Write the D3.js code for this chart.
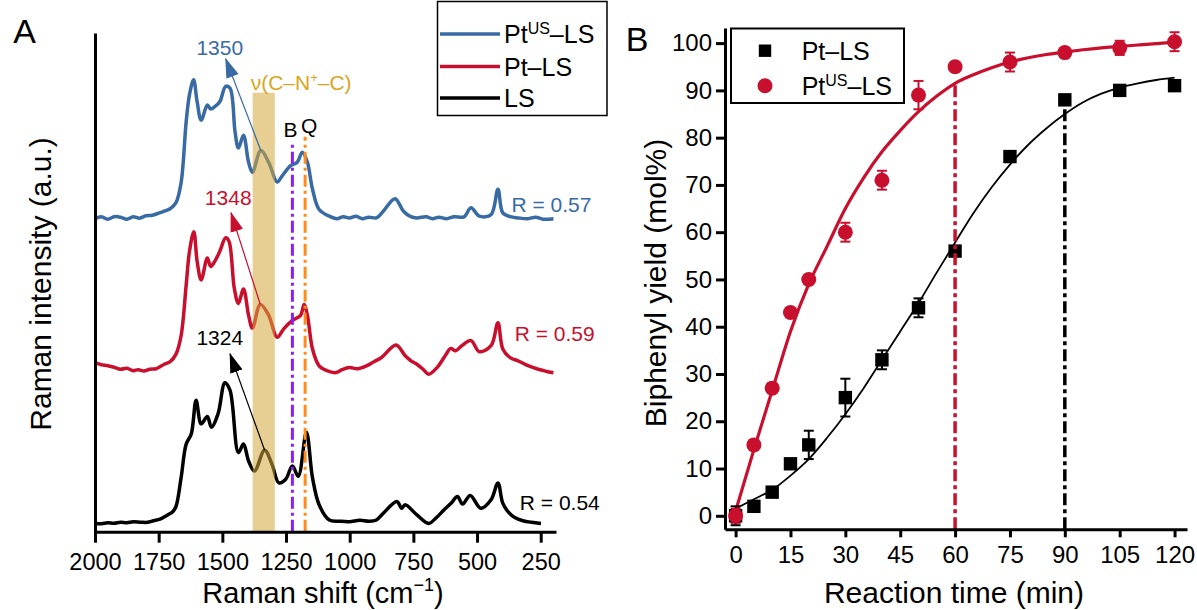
<!DOCTYPE html>
<html>
<head>
<meta charset="utf-8">
<script src="https://cdn.jsdelivr.net/npm/d3@7"></script>
<style>
body { margin: 0; background: #fff; }
svg text { font-family: "Liberation Sans", Arial, sans-serif; }
</style>
</head>
<body>
<svg id="chart" width="1197" height="610"></svg>
<script>
// ---- panel A : Raman spectra, [shift cm-1, intensity a.u.] ----
var ptUsLs = [[2000,313],[1975,315],[1950,312.5],[1925,315],[1900,314.5],[1875,312.5],[1850,315],[1825,313.5],[1800,316],[1775,316.5],[1750,318.5],[1728,320.5],[1705,323],[1682,329],[1662,349],[1642,410],[1629,437],[1613,452],[1599,430],[1583,411.5],[1559,426.7],[1546,422.7],[1530,425],[1510,430],[1487,445.3],[1470,443.6],[1450,399.7],[1437,383.6],[1417,396.4],[1397,369.4],[1382,359.3],[1349,381.2],[1318,369.4],[1285,349.8],[1265,355.9],[1232,366],[1206,369.4],[1186,379.5],[1166,369.4],[1146,342.4],[1120,322.2],[1080,315.5],[1050,313],[1025,315],[1001,313.8],[975,315.5],[950,313],[925,314.5],[895,313.8],[868,320.5],[822,333],[789,320.5],[760,315],[736,313.8],[700,315],[675,313],[650,314.5],[620,313],[590,315],[551,314.8],[524,323.9],[491,315.5],[445,317.1],[418,342.4],[399,318.8],[370,315],[339,313.8],[300,313],[270,314.5],[240,312.5],[200,313]];
var ptLs = [[2000,169],[1975,167],[1950,166],[1925,164.5],[1900,162.4],[1875,163.5],[1850,161],[1830,162],[1808,160.7],[1785,162.5],[1760,163],[1745,165],[1728,167.5],[1705,170],[1682,177.6],[1662,196],[1642,246.7],[1629,280.4],[1612,300],[1599,270.3],[1583,251.8],[1559,273.7],[1546,265.3],[1530,270.3],[1510,280.4],[1487,293.9],[1474,290.5],[1453,243.3],[1437,228.2],[1417,242.7],[1397,216.4],[1382,203.6],[1351,227.2],[1318,216.4],[1285,194.5],[1259,202.9],[1225,211.3],[1193,216.4],[1179,227.2],[1166,216.4],[1146,182.7],[1120,165.8],[1090,161],[1054,159.1],[1030,162],[1001,164.1],[970,163],[934,165.8],[905,170],[875,174.2],[818,186.7],[782,175.9],[760,171],[736,167.5],[710,162],[690,157.4],[657,164.1],[620,178],[604,183.3],[584,181],[560,186],[524,191.1],[491,180],[445,186],[418,209],[399,182.7],[370,174],[339,170.9],[300,166],[260,162.4],[230,160.5],[200,159]];
var ls = [[2000,8.3],[1975,8],[1950,9],[1925,8.5],[1900,9.5],[1875,9],[1850,10],[1820,9.5],[1794,9.4],[1770,11],[1745,12.5],[1715,16.8],[1695,20],[1682,25.2],[1662,53.9],[1642,87.6],[1622,97.7],[1603,131.4],[1583,107.8],[1559,115.2],[1543,104.4],[1517,117.9],[1490,148.9],[1470,141.5],[1437,79.1],[1417,87.6],[1397,70.7],[1374,60.6],[1334,81.5],[1305,67.3],[1278,48.8],[1252,52.2],[1225,65.7],[1202,55.5],[1170,99.4],[1146,53.9],[1120,26.9],[1080,11.7],[1040,10.5],[1001,10],[960,11.5],[925,10.5],[895,11.7],[868,18.5],[815,30.3],[796,23.5],[782,26.9],[736,16.8],[690,8.3],[660,14],[630,21.8],[600,29],[577,35.3],[557,27.6],[527,36.3],[485,23.5],[445,31.9],[418,48.8],[399,28.6],[375,19],[352,14.1],[320,11],[286,9.4],[249,8.3]];

var shiftTicks = [2000, 1750, 1500, 1250, 1000, 750, 500, 250];
var rValues = ["R = 0.57", "R = 0.59", "R = 0.54"];
var peakLabels = ["1350", "1348", "1324"];
var peakShift = [1349, 1351, 1334];
var bandRange = [1381, 1294];
var bqShift = [1225, 1175];
var bqNames = ["B", "Q"];

// ---- panel B : kinetics ----
var timeMin = [0, 5, 10, 15, 20, 30, 40, 50, 60, 75, 90, 105, 120];
var ptLsYield = [0, 2, 5, 11, 15, 25, 33, 44, 56, 76, 88, 90, 91];
var ptLsErr = [2, 0.5, 1, 1, 3, 4, 2, 2, 0.5, 1, 1, 1, 1];
var ptUsYield = [0, 15, 27, 43, 50, 60, 71, 89, 95, 96, 98, 99, 100.3];
var ptUsErr = [1.5, 1, 1, 1, 1, 2, 2, 3, 1, 2, 1, 1.5, 2];
var fitTime = [0, 5, 10, 15, 20, 25, 30, 35, 40, 45, 50, 55, 60, 65, 70, 75, 80, 85, 90, 95, 100, 105, 110, 115, 120];
var ptLsFit = [1.5, 3.5, 5.5, 8.5, 12, 16.5, 21.5, 27, 33, 39, 45, 51.5, 57.8, 64, 69.5, 74.3, 78.5, 82, 85, 87.5, 89.3, 90.6, 91.5, 92.2, 92.7];
var ptUsFit = [1, 14, 26.5, 39, 49, 57, 65, 71.5, 77, 81.5, 85.5, 88.8, 91.5, 93.3, 94.8, 96, 96.9, 97.6, 98.1, 98.6, 99, 99.3, 99.6, 99.9, 100.2];
var timeTicks = [0, 15, 30, 45, 60, 75, 90, 105, 120];
var yieldTicks = [0, 10, 20, 30, 40, 50, 60, 70, 80, 90, 100];

var blue = "#386aa3", red = "#c8102e", gold = "#d9a521";

var svg = d3.select("#chart");

// ================= A =================
var xA = d3.scaleLinear().domain([2000, 190]).range([95, 556]);
var yA = d3.scaleLinear().domain([0, 498.7]).range([531.7, 33]);

var gA = svg.append("g");

var lineA = d3.line()
    .x(function (d) { return xA(d[0]); })
    .y(function (d) { return yA(d[1]); })
    .curve(d3.curveCatmullRom.alpha(0.5));

var spectra = [ptUsLs, ptLs, ls];
var specColors = [blue, red, "#000"];

spectra.forEach(function (s, i) {
    gA.append("path")
        .attr("d", lineA(s))
        .attr("fill", "none")
        .attr("stroke", specColors[i])
        .attr("stroke-width", 3.5)
        .attr("stroke-linejoin", "round");
});

// band, drawn semi-transparent over the spectra
gA.append("rect")
    .attr("x", xA(bandRange[0]))
    .attr("width", xA(bandRange[1]) - xA(bandRange[0]))
    .attr("y", yA(439))
    .attr("height", yA(0) - yA(439))
    .attr("fill", "#d4a73a")
    .attr("opacity", 0.55);

gA.append("text")
    .attr("x", xA(bandRange[0]) - 2)
    .attr("y", yA(442))
    .attr("fill", gold)
    .attr("font-size", 21)
    .html('ν(C–N<tspan dy="-8" font-size="13">+</tspan><tspan dy="8">–C)</tspan>');

// B / Q lines
var bqColors = ["#8a1ff0", "#ff8c1a"];
var bqTop = [391, 395];
bqShift.forEach(function (s, i) {
    gA.append("line")
        .attr("x1", xA(s)).attr("x2", xA(s))
        .attr("y1", yA(0)).attr("y2", yA(bqTop[i]))
        .attr("stroke", bqColors[i])
        .attr("stroke-width", 3)
        .attr("stroke-dasharray", "12,4,3,4");
    gA.append("text")
        .attr("x", xA(s) + (i === 0 ? -2 : 4))
        .attr("y", yA(bqTop[i] + 4))
        .attr("text-anchor", "middle")
        .attr("font-size", 21)
        .text(bqNames[i]);
});

// arrows to the band peaks
var defs = svg.append("defs");
specColors.forEach(function (c, i) {
    defs.append("marker")
        .attr("id", "arr" + i)
        .attr("markerUnits", "userSpaceOnUse")
        .attr("viewBox", "0 -7 20 14")
        .attr("refX", 19).attr("refY", 0)
        .attr("markerWidth", 20).attr("markerHeight", 14)
        .attr("orient", "auto")
        .append("path")
        .attr("d", "M0,-6.5L20,0L0,6.5Z")
        .attr("fill", c);
});

var arrowTip = [[1487, 473], [1466, 319], [1470, 178]];
var labelPos = [[1510, 484], [1477, 334], [1510, 194.5]];
spectra.forEach(function (s, i) {
    var peakI = s.filter(function (d) { return d[0] === peakShift[i]; })[0][1];
    gA.append("line")
        .attr("x1", xA(peakShift[i])).attr("y1", yA(peakI))
        .attr("x2", xA(arrowTip[i][0])).attr("y2", yA(arrowTip[i][1]))
        .attr("stroke", specColors[i])
        .attr("stroke-width", 1.2)
        .attr("marker-end", "url(#arr" + i + ")");
    gA.append("text")
        .attr("x", xA(labelPos[i][0]))
        .attr("y", yA(labelPos[i][1]))
        .attr("dy", "0.36em")
        .attr("text-anchor", "middle")
        .attr("font-size", 21)
        .attr("fill", specColors[i])
        .text(peakLabels[i]);
});

// R values
var rPos = [[365, 327], [352, 198], [332, 29]];
rValues.forEach(function (r, i) {
    gA.append("text")
        .attr("x", xA(rPos[i][0]))
        .attr("y", yA(rPos[i][1]))
        .attr("dy", "0.36em")
        .attr("font-size", 21)
        .attr("fill", specColors[i])
        .text(r);
});

// axes A
var axA = gA.append("g")
    .attr("transform", "translate(0," + yA(0) + ")")
    .call(d3.axisBottom(xA).tickValues(shiftTicks).tickFormat(d3.format("d"))
        .tickSize(11).tickPadding(11).tickSizeOuter(0));
gA.append("g")
    .attr("transform", "translate(" + xA(2000) + ",0)")
    .call(d3.axisLeft(yA).tickValues([]).tickSizeOuter(0));

gA.selectAll(".domain, .tick line").attr("stroke", "#000").attr("stroke-width", 3);
axA.selectAll("text").attr("font-size", 23.5).attr("fill", "#000")
    .attr("font-family", "Liberation Sans, Arial, sans-serif");

gA.append("text")
    .attr("x", 323).attr("y", 603)
    .attr("text-anchor", "middle")
    .attr("font-size", 29)
    .html('Raman shift (cm<tspan dy="-12" font-size="18">−1</tspan><tspan dy="12">)</tspan>');

gA.append("text")
    .attr("transform", "translate(51,284) rotate(-90)")
    .attr("text-anchor", "middle")
    .attr("font-size", 30)
    .text("Raman intensity (a.u.)");

gA.append("text")
    .attr("x", 24.5).attr("y", 43)
    .attr("text-anchor", "middle")
    .attr("font-size", 34)
    .text("A");

// legend A
var legA = gA.append("g");
legA.append("rect")
    .attr("x", 437.5).attr("y", 1.5)
    .attr("width", 169.5).attr("height", 114)
    .attr("fill", "#fff").attr("stroke", "#000").attr("stroke-width", 1.5);
var legNames = ['Pt<tspan dy="-9" font-size="16">US</tspan><tspan dy="9">–LS</tspan>', "Pt–LS", "LS"];
var legY = [34, 66.5, 98];
legNames.forEach(function (n, i) {
    legA.append("line")
        .attr("x1", 440).attr("x2", 500)
        .attr("y1", legY[i]).attr("y2", legY[i])
        .attr("stroke", specColors[i]).attr("stroke-width", 3.5);
    legA.append("text")
        .attr("x", 504).attr("y", legY[i])
        .attr("dy", "0.36em")
        .attr("font-size", 25)
        .html(n);
});

// ================= B =================
var xB = d3.scaleLinear().domain([-2.9, 123.4]).range([725, 1187]);
var yB = d3.scaleLinear().domain([-2.86, 103.2]).range([529.3, 28]);
var gB = svg.append("g");

var lineB = d3.line()
    .x(function (d) { return xB(d[0]); })
    .y(function (d) { return yB(d[1]); })
    .curve(d3.curveMonotoneX);

gB.append("path")
    .attr("d", lineB(fitTime.map(function (t, i) { return [t, ptLsFit[i]]; })))
    .attr("fill", "none").attr("stroke", "#000").attr("stroke-width", 1.8);
gB.append("path")
    .attr("d", lineB(fitTime.map(function (t, i) { return [t, ptUsFit[i]]; })))
    .attr("fill", "none").attr("stroke", red).attr("stroke-width", 3.2);

function errBars(vals, errs, color) {
    timeMin.forEach(function (t, i) {
        var x = xB(t);
        var y1 = yB(vals[i] - errs[i]), y2 = yB(vals[i] + errs[i]);
        gB.append("line").attr("x1", x).attr("x2", x).attr("y1", y1).attr("y2", y2)
            .attr("stroke", color).attr("stroke-width", 2);
        [y1, y2].forEach(function (yy) {
            gB.append("line").attr("x1", x - 5).attr("x2", x + 5).attr("y1", yy).attr("y2", yy)
                .attr("stroke", color).attr("stroke-width", 2);
        });
    });
}
errBars(ptLsYield, ptLsErr, "#000");
errBars(ptUsYield, ptUsErr, red);

gB.selectAll(".sq").data(timeMin).enter().append("rect")
    .attr("x", function (d) { return xB(d) - 6.7; })
    .attr("y", function (d, i) { return yB(ptLsYield[i]) - 6.7; })
    .attr("width", 13.4).attr("height", 13.4)
    .attr("fill", "#000");
gB.selectAll(".ci").data(timeMin).enter().append("circle")
    .attr("cx", function (d) { return xB(d); })
    .attr("cy", function (d, i) { return yB(ptUsYield[i]); })
    .attr("r", 7.5)
    .attr("fill", red);

// dash-dot guide lines
var guideTime = [60, 90], guideTop = [91.5, 86.5], guideColor = [red, "#000"];
guideTime.forEach(function (t, i) {
    gB.append("line")
        .attr("x1", xB(t)).attr("x2", xB(t))
        .attr("y1", yB(-2.86)).attr("y2", yB(guideTop[i]))
        .attr("stroke", guideColor[i]).attr("stroke-width", 3.5)
        .attr("stroke-dasharray", "12,4,4,4");
});

var axBx = gB.append("g")
    .attr("transform", "translate(0," + yB(-2.86) + ")")
    .call(d3.axisBottom(xB).tickValues(timeTicks).tickSize(8).tickPadding(9).tickSizeOuter(0));
var axBy = gB.append("g")
    .attr("transform", "translate(" + xB(-2.9) + ",0)")
    .call(d3.axisLeft(yB).tickValues(yieldTicks).tickSize(9).tickPadding(4).tickSizeOuter(0));
[axBx, axBy].forEach(function (ax) {
    ax.selectAll(".domain, .tick line").attr("stroke", "#000").attr("stroke-width", 3);
    ax.selectAll("text").attr("font-size", 24).attr("fill", "#000")
        .attr("font-family", "Liberation Sans, Arial, sans-serif");
});

gB.append("text")
    .attr("x", 954).attr("y", 603)
    .attr("text-anchor", "middle")
    .attr("font-size", 30)
    .text("Reaction time (min)");
gB.append("text")
    .attr("transform", "translate(666,283) rotate(-90)")
    .attr("text-anchor", "middle")
    .attr("font-size", 30)
    .text("Biphenyl yield (mol%)");
gB.append("text")
    .attr("x", 637).attr("y", 51)
    .attr("text-anchor", "middle")
    .attr("font-size", 34)
    .text("B");

// legend B
var legB = gB.append("g");
legB.append("rect")
    .attr("x", 731).attr("y", 28.5)
    .attr("width", 173).attr("height", 74.5)
    .attr("fill", "#fff").attr("stroke", "#000").attr("stroke-width", 2);
legB.append("rect").attr("x", 765 - 6.2).attr("y", 50.7 - 6.2)
    .attr("width", 12.4).attr("height", 12.4).attr("fill", "#000");
legB.append("circle").attr("cx", 765).attr("cy", 85.7).attr("r", 7.5).attr("fill", red);
legB.append("text").attr("x", 801.7).attr("y", 50.7).attr("dy", "0.36em")
    .attr("font-size", 25).text("Pt–LS");
legB.append("text").attr("x", 801.7).attr("y", 85.7).attr("dy", "0.36em")
    .attr("font-size", 25)
    .html('Pt<tspan dy="-9" font-size="16">US</tspan><tspan dy="9">–LS</tspan>');
</script>
</body>
</html>
